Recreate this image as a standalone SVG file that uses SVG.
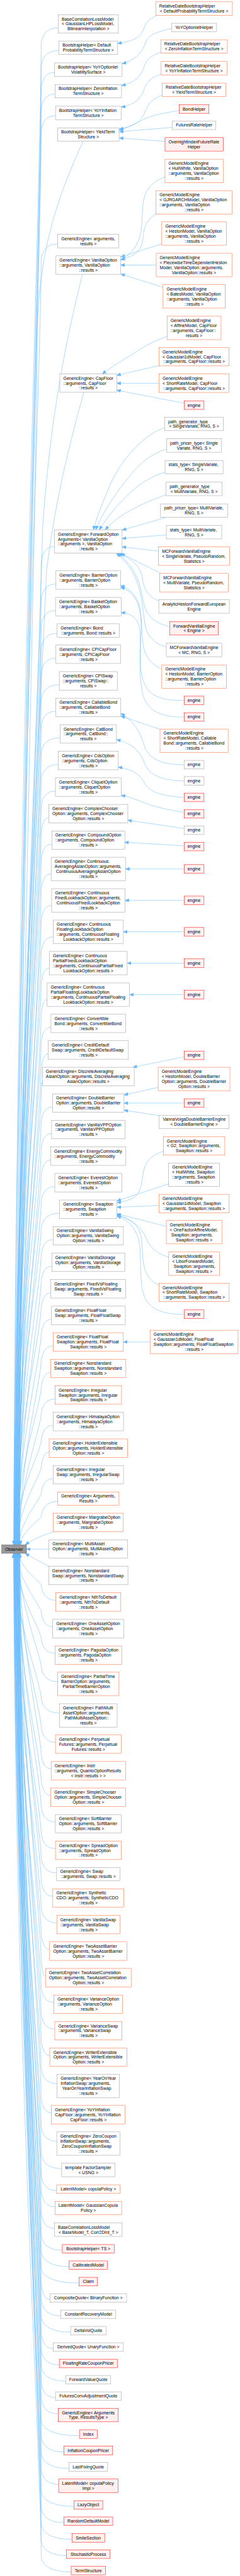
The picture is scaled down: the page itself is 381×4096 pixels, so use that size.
<svg xmlns="http://www.w3.org/2000/svg" width="381" height="4096" viewBox="0 0 381 4096">
<defs>
<style>
.e path{fill:none;stroke:#63B8FF;stroke-width:1;marker-end:url(#a)}
text{font-family:"Liberation Sans",Arial,Helvetica,sans-serif;font-size:13px;fill:#000}
.m{text-anchor:middle}
.g rect{fill:#fff;stroke:#999;stroke-width:1}
.o rect{fill:#fff;stroke:#FF6633;stroke-width:1}
.r rect{fill:#FFF0F0;stroke:#FF0000;stroke-width:1}
.b rect{fill:#999;stroke:#666;stroke-width:1}
</style>
<marker id="a" markerWidth="12" markerHeight="10" refX="12" refY="5" orient="auto" markerUnits="userSpaceOnUse" viewBox="0 0 12 10"><path d="M0,0L12,5L0,10z" fill="#63B8FF" stroke="#63B8FF"/></marker>
</defs>
<rect width="381" height="4096" fill="#fff"/>
<g transform="scale(0.5276)">
<g id="connectors" class="e">
<path d="M473,46C445,58 438,70 432,88C422,115 398,124 354,131"/>
<path d="M516,86C470,96 446,106 438,128C428,160 405,182 368,192"/>
<path d="M484,157C455,168 441,178 434,200C425,232 402,250 366,258"/>
<path d="M485,223C456,234 442,244 435,266C426,298 403,316 365,323"/>
<path d="M488,286C460,298 446,310 438,333C428,362 408,380 359,389"/>
<path d="M539,333C500,340 462,346 438,357C414,369 390,383 359,392"/>
<path d="M518.4,384L359,397"/>
<path d="M496.4,426L359,416"/>
<path d="M496.4,533C452,550 432,575 429,630C426,690 430,745 364,784"/>
<path d="M469.6,645C445,660 433,680 431,712C428,752 410,772 364,782"/>
<path d="M486.8,735L364,774"/>
<path d="M470,798.9L363.1,798.9"/>
<path d="M490.7,866L364,826"/>
<path d="M502.7,1014C470,1025 440,1040 410,1060C380,1080 335,1105 308,1126.8"/>
<path d="M478.5,1102L351.4,1131"/>
<path d="M478.5,1155L351.4,1155"/>
<path d="M554,1215L351.4,1176"/>
<path d="M495.5,1289C430,1310 362,1390 332,1460C308,1515 291,1560 281,1596.8"/>
<path d="M501,1354C460,1365 420,1395 386,1440C342,1495 306,1550 288,1596.8"/>
<path d="M496.7,1423C455,1435 416,1460 381,1495C346,1530 320,1562 299,1596.8"/>
<path d="M500,1491C460,1505 412,1525 372,1550C346,1566 331,1580 317,1596.8"/>
<path d="M497.2,1560L368,1597.5"/>
<path d="M500.6,1612L367.5,1623"/>
<path d="M477,1661L367.5,1648"/>
<path d="M485.3,1728.3L364,1668"/>
<path d="M477.9,1811C450,1800 433,1780 429,1745C424,1705 395,1685 358,1667.3"/>
<path d="M510.7,1888C470,1880 446,1860 436,1830C423,1790 428,1725 354,1667.3"/>
<path d="M500.4,1950C465,1940 446,1920 438,1890C426,1840 436,1735 350,1667.3"/>
<path d="M486.8,2016C460,2005 441,1985 433,1955C421,1905 432,1840 411,1805C399,1785 386,1772 363.1,1765"/>
<path d="M554,2111C490,2112 452,2100 434,2060C413,2010 426,1930 425,1880C424,1830 410,1785 363.1,1770"/>
<path d="M554,2161C480,2162 442,2140 429,2090C415,2030 426,1950 421,1900C417,1868 402,1850 364.5,1846"/>
<path d="M481.6,2198L364,2158"/>
<path d="M554,2305C490,2304 452,2290 437,2255C426,2225 418,2183 363.6,2150"/>
<path d="M554,2354C490,2352 452,2338 437,2305C425,2275 410,2244 350.5,2229"/>
<path d="M554,2403C490,2400 452,2388 436,2362C423,2338 405,2320 356,2312"/>
<path d="M554,2448C500,2440 462,2430 438,2421C416,2412 393,2402 364.7,2397"/>
<path d="M554,2497L384.7,2472"/>
<path d="M554,2549L375.5,2538.5"/>
<path d="M554,2618.8L377.6,2618.8"/>
<path d="M554,2713.7L376,2713.7"/>
<path d="M554,2808.3L371.2,2808.3"/>
<path d="M554,2902.8L382.7,2902.8"/>
<path d="M554,2997.7L389.6,2997.7"/>
<path d="M554,3185L400,3216.5"/>
<path d="M476,3277L373.2,3300"/>
<path d="M554,3324.4L373.2,3324.4"/>
<path d="M479.3,3362L373.2,3346"/>
<path d="M491.4,3470C460,3480 441,3495 433,3525C425,3560 428,3595 401,3610C386,3618 371,3622 352,3625"/>
<path d="M507.5,3568L352,3619"/>
<path d="M478.3,3633L352,3638.5"/>
<path d="M500.4,3696L352,3658"/>
<path d="M507.8,3789C475,3778 453,3762 441,3735C429,3705 410,3680 352,3661"/>
<path d="M478.3,3873C455,3862 439,3845 433,3815C425,3775 433,3720 411,3695C396,3678 376,3668 352,3663"/>
<path d="M554,3961C500,3962 456,3950 438,3915C419,3880 425,3810 421,3760C417,3720 401,3682 352,3665"/>
<path d="M451.6,4044.3L371.2,4044.3"/>
<path d="M175.2,84.4C149.6,83.4 128,96.4 124,129.4C121,672.5 44,2618.5 44,4655"/>
<path d="M177.5,152.7C150.8,151.7 128,164.7 124,197.7C121,732.6 50,2649.2 50,4655"/>
<path d="M164,218.7C144,217.7 128,230.7 124,263.7C121,790.7 56,2678.9 56,4655"/>
<path d="M165.7,283.8C144.9,282.8 128,295.8 124,328.8C121,847.9 47,2708.2 47,4655"/>
<path d="M167,349.3C145.5,348.3 128,361.3 124,394.3C121,905.6 53,2737.7 53,4655"/>
<path d="M250,425.8C180,580 118,740 112,1000C108,1700 59,3100 59,4655"/>
<path d="M173.9,735.6C148.9,734.6 128,747.6 124,780.6C121,1245.5 42,2911.5 42,4655"/>
<path d="M248,826.7C205,1000 150,1250 128,1600C118,2100 50,3300 50,4655"/>
<path d="M252,1182.4C220,1300 170,1480 140,1720C125,2100 45,3400 45,4655"/>
<path d="M164,1647.6C144,1646.6 128,1659.6 124,1692.6C121,2048.1 55,3321.9 55,4655"/>
<path d="M168.3,1760.4C146.2,1759.4 128,1772.4 124,1805.4C121,2147.4 48,3372.7 48,4655"/>
<path d="M167,1840.4C145.5,1839.4 128,1852.4 124,1885.4C121,2217.8 58,3408.7 58,4655"/>
<path d="M172,1909.2C148,1908.2 128,1921.2 124,1954.2C121,2278.3 43,3439.6 43,4655"/>
<path d="M168.3,1983.9C146.2,1982.9 128,1995.9 124,2028.9C121,2344 52,3473.3 52,4655"/>
<path d="M178.5,2064.2C151.3,2063.2 128,2076.2 124,2109.2C121,2414.7 46,3509.4 46,4655"/>
<path d="M167.9,2144.2C146,2143.2 128,2156.2 124,2189.2C121,2485.1 57,3545.4 57,4655"/>
<path d="M181,2224.2C152.5,2223.2 128,2236.2 124,2269.2C121,2555.5 41,3581.4 41,4655"/>
<path d="M175.5,2304.3C149.8,2303.3 128,2316.3 124,2349.3C121,2626 51,3617.4 51,4655"/>
<path d="M166.8,2384.3C145.4,2383.3 128,2396.3 124,2429.3C121,2696.4 54,3653.4 54,4655"/>
<path d="M146.7,2464.3C135.4,2463.3 128,2476.3 124,2509.3C121,2766.8 44,3689.4 44,4655"/>
<path d="M155.9,2544.3C140,2543.3 128,2556.3 124,2589.3C121,2837.2 49,3725.4 49,4655"/>
<path d="M153.9,2634.3C139,2633.3 128,2646.3 124,2679.3C121,2916.4 60,3765.9 60,4655"/>
<path d="M155.4,2729.2C139.7,2728.2 128,2741.2 124,2774.2C121,2999.9 46,3808.6 46,4655"/>
<path d="M160.3,2823.7C142.2,2822.7 128,2835.7 124,2868.7C121,3083.1 53,3851.2 53,4655"/>
<path d="M148.8,2918.2C136.4,2917.2 128,2930.2 124,2963.2C121,3166.2 42,3893.7 42,4655"/>
<path d="M141.9,3013.2C133,3012.2 128,3025.2 124,3058.2C121,3249.8 57,3936.4 57,4655"/>
<path d="M153.4,3096.5C138.7,3095.5 128,3108.5 124,3141.5C121,3323.1 48,3973.9 48,4655"/>
<path d="M145.1,3176.5C134.6,3175.5 128,3188.5 124,3221.5C121,3393.5 55,4009.9 55,4655"/>
<path d="M127.6,3256.5C125.8,3260 125,3275 124,3301.5C121,3463.9 44,4045.9 44,4655"/>
<path d="M158.2,3336.4C141.1,3335.4 128,3348.4 124,3381.4C121,3534.2 51,4081.9 51,4655"/>
<path d="M155.2,3416.5C139.6,3415.5 128,3428.5 124,3461.5C121,3604.7 58,4117.9 58,4655"/>
<path d="M152.7,3496.5C138.4,3495.5 128,3508.5 124,3541.5C121,3675.1 47,4153.9 47,4655"/>
<path d="M164.9,3576.5C144.5,3575.5 128,3588.5 124,3621.5C121,3745.5 54,4189.9 54,4655"/>
<path d="M179.4,3656.5C151.7,3655.5 128,3668.5 124,3701.5C121,3815.9 43,4225.9 43,4655"/>
<path d="M160.3,3736.5C142.2,3735.5 128,3748.5 124,3781.5C121,3886.3 50,4261.9 50,4655"/>
<path d="M155.9,3816.5C140,3815.5 128,3828.5 124,3861.5C121,3956.7 56,4297.9 56,4655"/>
<path d="M152.9,3896.5C138.5,3895.5 128,3908.5 124,3941.5C121,4027.1 45,4333.9 45,4655"/>
<path d="M154.3,3976.5C139.2,3975.5 128,3988.5 124,4021.5C121,4097.5 52,4369.9 52,4655"/>
<path d="M160.3,4056.5C142.2,4055.5 128,4068.5 124,4101.5C121,4167.9 59,4405.9 59,4655"/>
<path d="M152.7,4136.5C138.4,4135.5 128,4148.5 124,4181.5C121,4238.3 48,4441.9 48,4655"/>
<path d="M165.8,4216.5C144.9,4215.5 128,4228.5 124,4261.5C121,4308.7 55,4477.9 55,4655"/>
<path d="M159.8,4296.5C141.9,4295.5 128,4308.5 124,4341.5C121,4379.1 44,4513.9 44,4655"/>
<path d="M147.9,4376.6C136,4375.6 128,4388.6 124,4421.6C121,4449.6 51,4550 51,4655"/>
<path d="M159.8,4456.6C141.9,4455.6 128,4468.6 124,4501.6C121,4520 58,4586 58,4655"/>
<path d="M173.4,4525.4C148.7,4524.4 128,4537.4 124,4570.4C121,4580.6 62,4616.9 62,4655"/>
<path d="M160.3,4616.3C130,4626 100,4640 76,4655"/>
<path d="M147.4,4668.6L79.7,4668.6"/>
<path d="M146.5,4720.4C125,4710 100,4695 76,4682"/>
<path d="M167.9,4822.4C146,4823.4 128,4810.4 124,4777.4C121,4766 58,4724.9 58,4682"/>
<path d="M158.5,4902.4C141.3,4903.4 128,4890.4 124,4857.4C121,4836.4 52,4760.9 52,4682"/>
<path d="M165.4,4982.4C144.7,4983.4 128,4970.4 124,4937.4C121,4906.8 46,4796.9 46,4682"/>
<path d="M173.4,5067.6C148.7,5068.6 128,5055.6 124,5022.6C121,4981.7 56,4835.3 56,4682"/>
<path d="M178.9,5162.6C151.5,5163.6 128,5150.6 124,5117.6C121,5065.3 43,4878 43,4682"/>
<path d="M167,5250.6C145.5,5251.6 128,5238.6 124,5205.6C121,5142.8 50,4917.6 50,4682"/>
<path d="M153.9,5330.6C139,5331.6 128,5318.6 124,5285.6C121,5213.2 59,4953.6 59,4682"/>
<path d="M152.9,5410.6C138.5,5411.6 128,5398.6 124,5365.6C121,5283.6 47,4989.6 47,4682"/>
<path d="M166.5,5490.7C145.3,5491.7 128,5478.7 124,5445.7C121,5354.1 54,5025.7 54,4682"/>
<path d="M167,5570.7C145.5,5571.7 128,5558.7 124,5525.7C121,5424.5 41,5061.7 41,4682"/>
<path d="M170.4,5643.9C147.2,5644.9 128,5631.9 124,5598.9C121,5488.9 49,5094.6 49,4682"/>
<path d="M158.9,5714.5C141.5,5715.5 128,5702.5 124,5669.5C121,5551 57,5126.4 57,4682"/>
<path d="M170.9,5794.5C147.5,5795.5 128,5782.5 124,5749.5C121,5621.4 45,5162.4 45,4682"/>
<path d="M149.5,5874.5C136.8,5875.5 128,5862.5 124,5829.5C121,5691.8 52,5198.4 52,4682"/>
<path d="M136.8,5954.5C130.4,5955.5 128,5942.5 124,5909.5C121,5762.2 60,5234.4 60,4682"/>
<path d="M162.4,6034.5C143.2,6035.5 128,6022.5 124,5989.5C121,5832.6 44,5270.4 44,4682"/>
<path d="M164.9,6114.5C144.5,6115.5 128,6102.5 124,6069.5C121,5903 51,5306.4 51,4682"/>
<path d="M149.9,6194.1C137,6195.1 128,6182.1 124,6149.1C121,5973 55,5342.2 55,4682"/>
<path d="M171.8,6279.3C147.9,6280.3 128,6267.3 124,6234.3C121,6048 48,5380.5 48,4682"/>
<path d="M154.8,6367.4C139.4,6368.4 128,6355.4 124,6322.4C121,6125.6 58,5420.2 58,4682"/>
<path d="M170.9,6453C147.5,6454 128,6441 124,6408C121,6200.9 42,5458.7 42,4682"/>
<path d="M185.6,6535.5C154.8,6536.5 128,6523.5 124,6490.5C121,6273.5 53,5495.8 53,4682"/>
<path d="M170.4,6601.6C147.2,6602.6 128,6589.6 124,6556.6C121,6331.6 47,5525.6 47,4682"/>
<path d="M165.4,6650.3C144.7,6651.3 128,6638.3 124,6605.3C121,6374.5 56,5547.5 56,4682"/>
<path d="M164,6715.4C144,6716.4 128,6703.4 124,6670.4C121,6431.8 44,5576.8 44,4682"/>
<path d="M187.5,6781.5C155.8,6782.5 128,6769.5 124,6736.5C121,6490 50,5606.5 50,4682"/>
<path d="M208.2,6830.8C166.1,6831.8 128,6818.8 124,6785.8C121,6533.3 59,5628.7 59,4682"/>
<path d="M238.1,6880.2C181,6881.2 128,6868.2 124,6835.2C121,6576.8 46,5650.9 46,4682"/>
<path d="M150.4,6929.5C137.2,6930.5 128,6917.5 124,6884.5C121,6620.2 53,5673.1 53,4682"/>
<path d="M183.1,6978.9C153.6,6979.9 128,6966.9 124,6933.9C121,6663.7 41,5695.4 41,4682"/>
<path d="M212.5,7028.2C168.3,7029.2 128,7016.2 124,6983.2C121,6707.1 49,5717.5 49,4682"/>
<path d="M160.3,7077.5C142.2,7078.5 128,7065.5 124,7032.5C121,6750.4 57,5739.7 57,4682"/>
<path d="M178.5,7126.9C151.3,7127.9 128,7114.9 124,7081.9C121,6793.9 44,5762 44,4682"/>
<path d="M198.3,7176C161.2,7177 128,7164 124,7131C121,6837.1 52,5784 52,4682"/>
<path d="M167,7225.4C145.5,7226.4 128,7213.4 124,7180.4C121,6880.6 60,5806.3 60,4682"/>
<path d="M175.5,7274.2C149.8,7275.2 128,7262.2 124,7229.2C121,6923.5 47,5828.2 47,4682"/>
<path d="M239,7340.3C181.5,7341.3 128,7328.3 124,7295.3C121,6981.7 54,5858 54,4682"/>
<path d="M192.5,7389.4C158.3,7390.4 128,7377.4 124,7344.4C121,7024.9 43,5880.1 43,4682"/>
<path d="M207.5,7438.8C165.8,7439.8 128,7426.8 124,7393.8C121,7068.4 50,5902.3 50,4682"/>
<path d="M176.4,7487.2C150.2,7488.2 128,7475.2 124,7442.2C121,7111 58,5924.1 58,4682"/>
<path d="M222.2,7553.3C173.1,7554.3 128,7541.3 124,7508.3C121,7169.1 45,5953.8 45,4682"/>
<path d="M192.1,7602.3C158,7603.3 128,7590.3 124,7557.3C121,7212.3 53,5975.9 53,4682"/>
<path d="M216.5,7652.5C170.2,7653.5 128,7640.5 124,7607.5C121,7256.4 48,5998.5 48,4682"/>
<path d="M200.1,7701.5C162,7702.5 128,7689.5 124,7656.5C121,7299.6 55,6020.5 55,4682"/>
<path d="M214.2,7750.9C169.1,7751.9 128,7738.9 124,7705.9C121,7343 42,6042.8 42,4682"/>
</g>
<g id="Observer" class="b" transform="translate(42.4,4655.7)"><rect x="-37.3" y="0" width="74.6" height="25.7"/><text class="m" x="0" y="17.5">Observer</text></g>
<g id="L1" class="g" transform="translate(265.7,44.4)"><rect x="-90.5" y="0" width="181" height="55.6"/><text x="-80" y="17.3">BaseCorrelationLossModel</text><text x="-80" y="32.3">&lt; GaussianLHPLossModel,</text><text class="m" x="0" y="47.3">BilinearInterpolation &gt;</text></g>
<g id="L2" class="g" transform="translate(265.7,123.5)"><rect x="-88.2" y="0" width="176.4" height="40.6"/><text x="-77.7" y="17.3">BootstrapHelper&lt; Default</text><text class="m" x="0" y="32.3">ProbabilityTermStructure &gt;</text></g>
<g id="L3" class="g" transform="translate(265.7,189.5)"><rect x="-101.75" y="0" width="203.5" height="40.6"/><text x="-91.2" y="17.3">BootstrapHelper&lt; YoYOptionlet</text><text class="m" x="0" y="32.3">VolatilitySurface &gt;</text></g>
<g id="L4" class="g" transform="translate(265.7,254.6)"><rect x="-100" y="0" width="200" height="40.6"/><text x="-89.5" y="17.3">BootstrapHelper&lt; ZeroInflation</text><text class="m" x="0" y="32.3">TermStructure &gt;</text></g>
<g id="L5" class="g" transform="translate(265.7,320.1)"><rect x="-98.75" y="0" width="197.5" height="40.6"/><text x="-88.2" y="17.3">BootstrapHelper&lt; YoYInflation</text><text class="m" x="0" y="32.3">TermStructure &gt;</text></g>
<g id="L6" class="g" transform="translate(265.7,385.2)"><rect x="-92.5" y="0" width="185" height="40.6"/><text x="-82" y="17.3">BootstrapHelper&lt; YieldTerm</text><text class="m" x="0" y="32.3">Structure &gt;</text></g>
<g id="L7" class="g" transform="translate(265.7,706.4)"><rect x="-91.85" y="0" width="183.7" height="40.6"/><text x="-81.3" y="17.3">GenericEngine&lt; arguments,</text><text class="m" x="0" y="32.3">results &gt;</text></g>
<g id="L8" class="g" transform="translate(265.7,771.1)"><rect x="-97.4" y="0" width="194.8" height="55.6"/><text x="-86.9" y="17.3">GenericEngine&lt; VanillaOption</text><text x="-86.9" y="32.3">::arguments, VanillaOption</text><text class="m" x="0" y="47.3">::results &gt;</text></g>
<g id="L9" class="g" transform="translate(265.7,1126.8)"><rect x="-85.65" y="0" width="171.3" height="55.6"/><text x="-75.1" y="17.3">GenericEngine&lt; CapFloor</text><text x="-75.1" y="32.3">::arguments, CapFloor</text><text class="m" x="0" y="47.3">::results &gt;</text></g>
<g id="L10" class="g" transform="translate(265.7,1596.8)"><rect x="-101.75" y="0" width="203.5" height="70.5"/><text x="-91.2" y="17.3">GenericEngine&lt; ForwardOption</text><text x="-91.2" y="32.3">Arguments&lt; VanillaOption</text><text x="-91.2" y="47.3">::arguments &gt;, VanillaOption</text><text class="m" x="0" y="62.3">::results &gt;</text></g>
<g id="L11" class="g" transform="translate(265.7,1720.4)"><rect x="-97.4" y="0" width="194.8" height="55.6"/><text x="-86.9" y="17.3">GenericEngine&lt; BarrierOption</text><text x="-86.9" y="32.3">::arguments, BarrierOption</text><text class="m" x="0" y="47.3">::results &gt;</text></g>
<g id="L12" class="g" transform="translate(265.7,1800.4)"><rect x="-98.75" y="0" width="197.5" height="55.6"/><text x="-88.2" y="17.3">GenericEngine&lt; BasketOption</text><text x="-88.2" y="32.3">::arguments, BasketOption</text><text class="m" x="0" y="47.3">::results &gt;</text></g>
<g id="L13" class="g" transform="translate(265.7,1880)"><rect x="-93.7" y="0" width="187.4" height="40.6"/><text x="-83.2" y="17.3">GenericEngine&lt; Bond</text><text class="m" x="0" y="32.3">::arguments, Bond::results &gt;</text></g>
<g id="L14" class="g" transform="translate(265.7,1943.9)"><rect x="-97.4" y="0" width="194.8" height="55.6"/><text x="-86.9" y="17.3">GenericEngine&lt; CPICapFloor</text><text x="-86.9" y="32.3">::arguments, CPICapFloor</text><text class="m" x="0" y="47.3">::results &gt;</text></g>
<g id="L15" class="g" transform="translate(265.7,2024.2)"><rect x="-87.25" y="0" width="174.5" height="55.6"/><text x="-76.7" y="17.3">GenericEngine&lt; CPISwap</text><text x="-76.7" y="32.3">::arguments, CPISwap::</text><text class="m" x="0" y="47.3">results &gt;</text></g>
<g id="L16" class="g" transform="translate(265.7,2104.2)"><rect x="-97.85" y="0" width="195.7" height="55.6"/><text x="-87.3" y="17.3">GenericEngine&lt; CallableBond</text><text x="-87.3" y="32.3">::arguments, CallableBond</text><text class="m" x="0" y="47.3">::results &gt;</text></g>
<g id="L17" class="g" transform="translate(265.7,2184.2)"><rect x="-84.75" y="0" width="169.5" height="55.6"/><text x="-74.2" y="17.3">GenericEngine&lt; CatBond</text><text x="-74.2" y="32.3">::arguments, CatBond::</text><text class="m" x="0" y="47.3">results &gt;</text></g>
<g id="L18" class="g" transform="translate(265.7,2264.3)"><rect x="-90.25" y="0" width="180.5" height="55.6"/><text x="-79.7" y="17.3">GenericEngine&lt; CdsOption</text><text x="-79.7" y="32.3">::arguments, CdsOption</text><text class="m" x="0" y="47.3">::results &gt;</text></g>
<g id="L19" class="g" transform="translate(265.7,2344.3)"><rect x="-98.95" y="0" width="197.9" height="55.6"/><text x="-88.4" y="17.3">GenericEngine&lt; CliquetOption</text><text x="-88.4" y="32.3">::arguments, CliquetOption</text><text class="m" x="0" y="47.3">::results &gt;</text></g>
<g id="L20" class="g" transform="translate(265.7,2424.3)"><rect x="-119" y="0" width="238" height="55.6"/><text x="-108.5" y="17.3">GenericEngine&lt; ComplexChooser</text><text x="-108.5" y="32.3">Option::arguments, ComplexChooser</text><text class="m" x="0" y="47.3">Option::results &gt;</text></g>
<g id="L21" class="g" transform="translate(265.7,2504.3)"><rect x="-109.8" y="0" width="219.6" height="55.6"/><text x="-99.3" y="17.3">GenericEngine&lt; CompoundOption</text><text x="-99.3" y="32.3">::arguments, CompoundOption</text><text class="m" x="0" y="47.3">::results &gt;</text></g>
<g id="L22" class="g" transform="translate(265.7,2583.5)"><rect x="-111.85" y="0" width="223.7" height="70.5"/><text x="-101.3" y="17.3">GenericEngine&lt; Continuous</text><text x="-101.3" y="32.3">AveragingAsianOption::arguments,</text><text class="m" x="0" y="47.3">ContinuousAveragingAsianOption</text><text class="m" x="0" y="62.3">::results &gt;</text></g>
<g id="L23" class="g" transform="translate(265.7,2678.4)"><rect x="-110.3" y="0" width="220.6" height="70.5"/><text x="-99.8" y="17.3">GenericEngine&lt; Continuous</text><text x="-99.8" y="32.3">FixedLookbackOption::arguments,</text><text class="m" x="0" y="47.3">ContinuousFixedLookbackOption</text><text class="m" x="0" y="62.3">::results &gt;</text></g>
<g id="L24" class="g" transform="translate(265.7,2772.9)"><rect x="-105.45" y="0" width="210.9" height="70.5"/><text x="-94.9" y="17.3">GenericEngine&lt; Continuous</text><text x="-94.9" y="32.3">FloatingLookbackOption</text><text x="-94.9" y="47.3">::arguments, ContinuousFloating</text><text class="m" x="0" y="62.3">LookbackOption::results &gt;</text></g>
<g id="L25" class="g" transform="translate(265.7,2867.4)"><rect x="-116.95" y="0" width="233.9" height="70.5"/><text x="-106.4" y="17.3">GenericEngine&lt; Continuous</text><text x="-106.4" y="32.3">PartialFixedLookbackOption</text><text x="-106.4" y="47.3">::arguments, ContinuousPartialFixed</text><text class="m" x="0" y="62.3">LookbackOption::results &gt;</text></g>
<g id="L26" class="g" transform="translate(265.7,2962.4)"><rect x="-123.85" y="0" width="247.7" height="70.5"/><text x="-113.3" y="17.3">GenericEngine&lt; Continuous</text><text x="-113.3" y="32.3">PartialFloatingLookbackOption</text><text x="-113.3" y="47.3">::arguments, ContinuousPartialFloating</text><text class="m" x="0" y="62.3">LookbackOption::results &gt;</text></g>
<g id="L27" class="g" transform="translate(265.7,3056.5)"><rect x="-112.35" y="0" width="224.7" height="55.6"/><text x="-101.8" y="17.3">GenericEngine&lt; Convertible</text><text x="-101.8" y="32.3">Bond::arguments, ConvertibleBond</text><text class="m" x="0" y="47.3">::results &gt;</text></g>
<g id="L28" class="g" transform="translate(265.7,3136.5)"><rect x="-120.65" y="0" width="241.3" height="55.6"/><text x="-110.1" y="17.3">GenericEngine&lt; CreditDefault</text><text x="-110.1" y="32.3">Swap::arguments, CreditDefaultSwap</text><text class="m" x="0" y="47.3">::results &gt;</text></g>
<g id="L29" class="g" transform="translate(265.7,3216.5)"><rect x="-138.15" y="0" width="276.3" height="55.6"/><text x="-127.6" y="17.3">GenericEngine&lt; DiscreteAveraging</text><text x="-127.6" y="32.3">AsianOption::arguments, DiscreteAveraging</text><text class="m" x="0" y="47.3">AsianOption::results &gt;</text></g>
<g id="L30" class="g" transform="translate(265.7,3296.4)"><rect x="-107.5" y="0" width="215" height="55.6"/><text x="-97" y="17.3">GenericEngine&lt; DoubleBarrier</text><text x="-97" y="32.3">Option::arguments, DoubleBarrier</text><text class="m" x="0" y="47.3">Option::results &gt;</text></g>
<g id="L31" class="g" transform="translate(265.7,3376.5)"><rect x="-110.5" y="0" width="221" height="55.6"/><text x="-100" y="17.3">GenericEngine&lt; VanillaVPPOption</text><text x="-100" y="32.3">::arguments, VanillaVPPOption</text><text class="m" x="0" y="47.3">::results &gt;</text></g>
<g id="L32" class="g" transform="translate(265.7,3456.5)"><rect x="-113.05" y="0" width="226.1" height="55.6"/><text x="-102.5" y="17.3">GenericEngine&lt; EnergyCommodity</text><text x="-102.5" y="32.3">::arguments, EnergyCommodity</text><text class="m" x="0" y="47.3">::results &gt;</text></g>
<g id="L33" class="g" transform="translate(265.7,3536.5)"><rect x="-100.85" y="0" width="201.7" height="55.6"/><text x="-90.3" y="17.3">GenericEngine&lt; EverestOption</text><text x="-90.3" y="32.3">::arguments, EverestOption</text><text class="m" x="0" y="47.3">::results &gt;</text></g>
<g id="L34" class="g" transform="translate(265.7,3616.5)"><rect x="-86.3" y="0" width="172.6" height="55.6"/><text x="-75.8" y="17.3">GenericEngine&lt; Swaption</text><text x="-75.8" y="32.3">::arguments, Swaption</text><text class="m" x="0" y="47.3">::results &gt;</text></g>
<g id="L35" class="g" transform="translate(265.7,3696.5)"><rect x="-105.45" y="0" width="210.9" height="55.6"/><text x="-94.9" y="17.3">GenericEngine&lt; VanillaSwing</text><text x="-94.9" y="32.3">Option::arguments, VanillaSwing</text><text class="m" x="0" y="47.3">Option::results &gt;</text></g>
<g id="L36" class="g" transform="translate(265.7,3776.5)"><rect x="-109.8" y="0" width="219.6" height="55.6"/><text x="-99.3" y="17.3">GenericEngine&lt; VanillaStorage</text><text x="-99.3" y="32.3">Option::arguments, VanillaStorage</text><text class="m" x="0" y="47.3">Option::results &gt;</text></g>
<g id="L37" class="g" transform="translate(265.7,3856.5)"><rect x="-112.8" y="0" width="225.6" height="55.6"/><text x="-102.3" y="17.3">GenericEngine&lt; FixedVsFloating</text><text x="-102.3" y="32.3">Swap::arguments, FixedVsFloating</text><text class="m" x="0" y="47.3">Swap::results &gt;</text></g>
<g id="L38" class="g" transform="translate(265.7,3936.5)"><rect x="-111.45" y="0" width="222.9" height="55.6"/><text x="-100.9" y="17.3">GenericEngine&lt; FloatFloat</text><text x="-100.9" y="32.3">Swap::arguments, FloatFloatSwap</text><text class="m" x="0" y="47.3">::results &gt;</text></g>
<g id="L39" class="o" transform="translate(265.7,4016.5)"><rect x="-105.45" y="0" width="210.9" height="55.6"/><text x="-94.9" y="17.3">GenericEngine&lt; FloatFloat</text><text x="-94.9" y="32.3">Swaption::arguments, FloatFloat</text><text class="m" x="0" y="47.3">Swaption::results &gt;</text></g>
<g id="L40" class="o" transform="translate(265.7,4096.5)"><rect x="-113.05" y="0" width="226.1" height="55.6"/><text x="-102.5" y="17.3">GenericEngine&lt; Nonstandard</text><text x="-102.5" y="32.3">Swaption::arguments, Nonstandard</text><text class="m" x="0" y="47.3">Swaption::results &gt;</text></g>
<g id="L41" class="o" transform="translate(265.7,4176.5)"><rect x="-99.95" y="0" width="199.9" height="55.6"/><text x="-89.4" y="17.3">GenericEngine&lt; Irregular</text><text x="-89.4" y="32.3">Swaption::arguments, Irregular</text><text class="m" x="0" y="47.3">Swaption::results &gt;</text></g>
<g id="L42" class="g" transform="translate(265.7,4256.5)"><rect x="-105.9" y="0" width="211.8" height="55.6"/><text x="-95.4" y="17.3">GenericEngine&lt; HimalayaOption</text><text x="-95.4" y="32.3">::arguments, HimalayaOption</text><text class="m" x="0" y="47.3">::results &gt;</text></g>
<g id="L43" class="o" transform="translate(265.7,4336.6)"><rect x="-117.85" y="0" width="235.7" height="55.6"/><text x="-107.3" y="17.3">GenericEngine&lt; HolderExtensible</text><text x="-107.3" y="32.3">Option::arguments, HolderExtensible</text><text class="m" x="0" y="47.3">Option::results &gt;</text></g>
<g id="L44" class="g" transform="translate(265.7,4416.6)"><rect x="-105.9" y="0" width="211.8" height="55.6"/><text x="-95.4" y="17.3">GenericEngine&lt; Irregular</text><text x="-95.4" y="32.3">Swap::arguments, IrregularSwap</text><text class="m" x="0" y="47.3">::results &gt;</text></g>
<g id="L45" class="o" transform="translate(265.7,4496.2)"><rect x="-92.3" y="0" width="184.6" height="40.6"/><text x="-81.8" y="17.3">GenericEngine&lt; Arguments,</text><text class="m" x="0" y="32.3">Results &gt;</text></g>
<g id="L46" class="o" transform="translate(265.7,4560.4)"><rect x="-105.45" y="0" width="210.9" height="55.6"/><text x="-94.9" y="17.3">GenericEngine&lt; MargrabeOption</text><text x="-94.9" y="32.3">::arguments, MargrabeOption</text><text class="m" x="0" y="47.3">::results &gt;</text></g>
<g id="L47" class="g" transform="translate(265.7,4640.4)"><rect x="-118.35" y="0" width="236.7" height="55.6"/><text x="-107.8" y="17.3">GenericEngine&lt; MultiAsset</text><text x="-107.8" y="32.3">Option::arguments, MultiAssetOption</text><text class="m" x="0" y="47.3">::results &gt;</text></g>
<g id="L48" class="g" transform="translate(265.7,4720.4)"><rect x="-119.25" y="0" width="238.5" height="55.6"/><text x="-108.7" y="17.3">GenericEngine&lt; Nonstandard</text><text x="-108.7" y="32.3">Swap::arguments, NonstandardSwap</text><text class="m" x="0" y="47.3">::results &gt;</text></g>
<g id="L49" class="o" transform="translate(265.7,4800.4)"><rect x="-97.85" y="0" width="195.7" height="55.6"/><text x="-87.3" y="17.3">GenericEngine&lt; NthToDefault</text><text x="-87.3" y="32.3">::arguments, NthToDefault</text><text class="m" x="0" y="47.3">::results &gt;</text></g>
<g id="L50" class="g" transform="translate(265.7,4880.4)"><rect x="-107.25" y="0" width="214.5" height="55.6"/><text x="-96.7" y="17.3">GenericEngine&lt; OneAssetOption</text><text x="-96.7" y="32.3">::arguments, OneAssetOption</text><text class="m" x="0" y="47.3">::results &gt;</text></g>
<g id="L51" class="o" transform="translate(265.7,4960.4)"><rect x="-100.35" y="0" width="200.7" height="55.6"/><text x="-89.8" y="17.3">GenericEngine&lt; PagodaOption</text><text x="-89.8" y="32.3">::arguments, PagodaOption</text><text class="m" x="0" y="47.3">::results &gt;</text></g>
<g id="L52" class="o" transform="translate(265.7,5039.6)"><rect x="-92.3" y="0" width="184.6" height="70.5"/><text x="-81.8" y="17.3">GenericEngine&lt; PartialTime</text><text x="-81.8" y="32.3">BarrierOption::arguments,</text><text class="m" x="-6" y="47.3">PartialTimeBarrierOption</text><text class="m" x="0" y="62.3">::results &gt;</text></g>
<g id="L53" class="g" transform="translate(265.7,5134.6)"><rect x="-86.8" y="0" width="173.6" height="70.5"/><text x="-76.3" y="17.3">GenericEngine&lt; PathMulti</text><text x="-76.3" y="32.3">AssetOption::arguments,</text><text class="m" x="-5" y="47.3">PathMultiAssetOption::</text><text class="m" x="0" y="62.3">results &gt;</text></g>
<g id="L54" class="o" transform="translate(265.7,5228.6)"><rect x="-98.75" y="0" width="197.5" height="55.6"/><text x="-88.2" y="17.3">GenericEngine&lt; Perpetual</text><text x="-88.2" y="32.3">Futures::arguments, Perpetual</text><text class="m" x="0" y="47.3">Futures::results &gt;</text></g>
<g id="L55" class="o" transform="translate(265.7,5308.6)"><rect x="-111.85" y="0" width="223.7" height="55.6"/><text x="-101.3" y="17.3">GenericEngine&lt; Instr</text><text x="-101.3" y="32.3">::arguments, QuantoOptionResults</text><text class="m" x="0" y="47.3">&lt; Instr::results &gt; &gt;</text></g>
<g id="L56" class="o" transform="translate(265.7,5388.6)"><rect x="-112.8" y="0" width="225.6" height="55.6"/><text x="-102.3" y="17.3">GenericEngine&lt; SimpleChooser</text><text x="-102.3" y="32.3">Option::arguments, SimpleChooser</text><text class="m" x="0" y="47.3">Option::results &gt;</text></g>
<g id="L57" class="g" transform="translate(265.7,5468.7)"><rect x="-99.2" y="0" width="198.4" height="55.6"/><text x="-88.7" y="17.3">GenericEngine&lt; SoftBarrier</text><text x="-88.7" y="32.3">Option::arguments, SoftBarrier</text><text class="m" x="0" y="47.3">Option::results &gt;</text></g>
<g id="L58" class="o" transform="translate(265.7,5548.7)"><rect x="-98.75" y="0" width="197.5" height="55.6"/><text x="-88.2" y="17.3">GenericEngine&lt; SpreadOption</text><text x="-88.2" y="32.3">::arguments, SpreadOption</text><text class="m" x="0" y="47.3">::results &gt;</text></g>
<g id="L59" class="g" transform="translate(265.7,5627.9)"><rect x="-95.35" y="0" width="190.7" height="40.6"/><text x="-84.8" y="17.3">GenericEngine&lt; Swap</text><text class="m" x="0" y="32.3">::arguments, Swap::results &gt;</text></g>
<g id="L60" class="o" transform="translate(265.7,5692.5)"><rect x="-106.85" y="0" width="213.7" height="55.6"/><text x="-96.3" y="17.3">GenericEngine&lt; Synthetic</text><text x="-96.3" y="32.3">CDO::arguments, SyntheticCDO</text><text class="m" x="0" y="47.3">::results &gt;</text></g>
<g id="L61" class="o" transform="translate(265.7,5772.5)"><rect x="-94.85" y="0" width="189.7" height="55.6"/><text x="-84.3" y="17.3">GenericEngine&lt; VanillaSwap</text><text x="-84.3" y="32.3">::arguments, VanillaSwap</text><text class="m" x="0" y="47.3">::results &gt;</text></g>
<g id="L62" class="o" transform="translate(265.7,5852.5)"><rect x="-116.25" y="0" width="232.5" height="55.6"/><text x="-105.7" y="17.3">GenericEngine&lt; TwoAssetBarrier</text><text x="-105.7" y="32.3">Option::arguments, TwoAssetBarrier</text><text class="m" x="0" y="47.3">Option::results &gt;</text></g>
<g id="L63" class="o" transform="translate(265.7,5932.5)"><rect x="-128.9" y="0" width="257.8" height="55.6"/><text x="-118.4" y="17.3">GenericEngine&lt; TwoAssetCorrelation</text><text x="-118.4" y="32.3">Option::arguments, TwoAssetCorrelation</text><text class="m" x="0" y="47.3">Option::results &gt;</text></g>
<g id="L64" class="o" transform="translate(265.7,6012.5)"><rect x="-103.35" y="0" width="206.7" height="55.6"/><text x="-92.8" y="17.3">GenericEngine&lt; VarianceOption</text><text x="-92.8" y="32.3">::arguments, VarianceOption</text><text class="m" x="0" y="47.3">::results &gt;</text></g>
<g id="L65" class="o" transform="translate(265.7,6092.5)"><rect x="-100.85" y="0" width="201.7" height="55.6"/><text x="-90.3" y="17.3">GenericEngine&lt; VarianceSwap</text><text x="-90.3" y="32.3">::arguments, VarianceSwap</text><text class="m" x="0" y="47.3">::results &gt;</text></g>
<g id="L66" class="o" transform="translate(265.7,6172.1)"><rect x="-115.8" y="0" width="231.6" height="55.6"/><text x="-105.3" y="17.3">GenericEngine&lt; WriterExtensible</text><text x="-105.3" y="32.3">Option::arguments, WriterExtensible</text><text class="m" x="0" y="47.3">Option::results &gt;</text></g>
<g id="L67" class="g" transform="translate(265.7,6251.3)"><rect x="-93.95" y="0" width="187.9" height="70.5"/><text x="-83.4" y="17.3">GenericEngine&lt; YearOnYear</text><text x="-83.4" y="32.3">InflationSwap::arguments,</text><text class="m" x="-5" y="47.3">YearOnYearInflationSwap</text><text class="m" x="0" y="62.3">::results &gt;</text></g>
<g id="L68" class="o" transform="translate(265.7,6345.4)"><rect x="-110.95" y="0" width="221.9" height="55.6"/><text x="-100.4" y="17.3">GenericEngine&lt; YoYInflation</text><text x="-100.4" y="32.3">CapFloor::arguments, YoYInflation</text><text class="m" x="0" y="47.3">CapFloor::results &gt;</text></g>
<g id="L69" class="g" transform="translate(265.7,6425)"><rect x="-94.85" y="0" width="189.7" height="70.5"/><text x="-84.3" y="17.3">GenericEngine&lt; ZeroCoupon</text><text x="-84.3" y="32.3">InflationSwap::arguments,</text><text class="m" x="-5" y="47.3">ZeroCouponInflationSwap</text><text class="m" x="0" y="62.3">::results &gt;</text></g>
<g id="L70" class="g" transform="translate(265.7,6519.5)"><rect x="-80.15" y="0" width="160.3" height="40.6"/><text x="-69.6" y="17.3">template FactorSampler</text><text class="m" x="0" y="32.3">&lt; USNG &gt;</text></g>
<g id="L71" class="o" transform="translate(265.7,6584.6)"><rect x="-95.35" y="0" width="190.7" height="26"/><text class="m" x="0" y="17.5">LatentModel&lt; copulaPolicy &gt;</text></g>
<g id="L72" class="o" transform="translate(265.7,6634.3)"><rect x="-100.35" y="0" width="200.7" height="40.6"/><text x="-89.8" y="17.3">LatentModel&lt; GaussianCopula</text><text class="m" x="0" y="32.3">Policy &gt;</text></g>
<g id="L73" class="g" transform="translate(265.7,6699.4)"><rect x="-101.75" y="0" width="203.5" height="40.6"/><text x="-91.2" y="17.3">BaseCorrelationLossModel</text><text class="m" x="0" y="32.3">&lt; BaseModel_T, Corr2DInt_T &gt;</text></g>
<g id="L74" class="r" transform="translate(265.7,6764.5)"><rect x="-78.25" y="0" width="156.5" height="26"/><text class="m" x="0" y="17.5">BootstrapHelper&lt; TS &gt;</text></g>
<g id="L75" class="r" transform="translate(265.7,6813.8)"><rect x="-57.55" y="0" width="115.1" height="26"/><text class="m" x="0" y="17.5">CalibratedModel</text></g>
<g id="L76" class="r" transform="translate(265.7,6863.2)"><rect x="-27.65" y="0" width="55.3" height="26"/><text class="m" x="0" y="17.5">Claim</text></g>
<g id="L77" class="g" transform="translate(265.7,6912.5)"><rect x="-115.3" y="0" width="230.6" height="26"/><text class="m" x="0" y="17.5">CompositeQuote&lt; BinaryFunction &gt;</text></g>
<g id="L78" class="g" transform="translate(265.7,6961.9)"><rect x="-82.65" y="0" width="165.3" height="26"/><text class="m" x="0" y="17.5">ConstantRecoveryModel</text></g>
<g id="L79" class="g" transform="translate(265.7,7011.2)"><rect x="-53.2" y="0" width="106.4" height="26"/><text class="m" x="0" y="17.5">DeltaVolQuote</text></g>
<g id="L80" class="g" transform="translate(265.7,7060.5)"><rect x="-105.45" y="0" width="210.9" height="26"/><text class="m" x="0" y="17.5">DerivedQuote&lt; UnaryFunction &gt;</text></g>
<g id="L81" class="r" transform="translate(265.7,7109.9)"><rect x="-87.25" y="0" width="174.5" height="26"/><text class="m" x="0" y="17.5">FloatingRateCouponPricer</text></g>
<g id="L82" class="g" transform="translate(265.7,7159)"><rect x="-67.45" y="0" width="134.9" height="26"/><text class="m" x="0" y="17.5">ForwardValueQuote</text></g>
<g id="L83" class="g" transform="translate(265.7,7208.4)"><rect x="-98.75" y="0" width="197.5" height="26"/><text class="m" x="0" y="17.5">FuturesConvAdjustmentQuote</text></g>
<g id="L84" class="r" transform="translate(265.7,7258.2)"><rect x="-90.25" y="0" width="180.5" height="40.6"/><text x="-79.7" y="17.3">GenericEngine&lt; Arguments</text><text class="m" x="0" y="32.3">Type, ResultsType &gt;</text></g>
<g id="L85" class="r" transform="translate(265.7,7323.3)"><rect x="-26.7" y="0" width="53.4" height="26"/><text class="m" x="0" y="17.5">Index</text></g>
<g id="L86" class="r" transform="translate(265.7,7372.4)"><rect x="-73.25" y="0" width="146.5" height="26"/><text class="m" x="0" y="17.5">InflationCouponPricer</text></g>
<g id="L87" class="g" transform="translate(265.7,7421.8)"><rect x="-58.25" y="0" width="116.5" height="26"/><text class="m" x="0" y="17.5">LastFixingQuote</text></g>
<g id="L88" class="r" transform="translate(265.7,7471.2)"><rect x="-89.35" y="0" width="178.7" height="40.6"/><text x="-78.8" y="17.3">LatentModel&lt; copulaPolicy</text><text class="m" x="0" y="32.3">Impl &gt;</text></g>
<g id="L89" class="r" transform="translate(265.7,7536.3)"><rect x="-43.5" y="0" width="87" height="26"/><text class="m" x="0" y="17.5">LazyObject</text></g>
<g id="L90" class="r" transform="translate(265.7,7585.3)"><rect x="-73.65" y="0" width="147.3" height="26"/><text class="m" x="0" y="17.5">RandomDefaultModel</text></g>
<g id="L91" class="r" transform="translate(265.7,7635.5)"><rect x="-49.25" y="0" width="98.5" height="26"/><text class="m" x="0" y="17.5">SmileSection</text></g>
<g id="L92" class="r" transform="translate(265.7,7684.5)"><rect x="-65.6" y="0" width="131.2" height="26"/><text class="m" x="0" y="17.5">StochasticProcess</text></g>
<g id="L93" class="r" transform="translate(265.7,7733.9)"><rect x="-51.55" y="0" width="103.1" height="26"/><text class="m" x="0" y="17.5">TermStructure</text></g>
<g id="R1" class="o" transform="translate(583.9,5.4)"><rect x="-115.35" y="0" width="230.7" height="40.6"/><text x="-104.8" y="17.3">RelativeDateBootstrapHelper</text><text class="m" x="0" y="32.3">&lt; DefaultProbabilityTermStructure &gt;</text></g>
<g id="R2" class="g" transform="translate(583.9,70.1)"><rect x="-67.9" y="0" width="135.8" height="26"/><text class="m" x="0" y="17.5">YoYOptionletHelper</text></g>
<g id="R3" class="o" transform="translate(583.9,119.8)"><rect x="-100.15" y="0" width="200.3" height="40.6"/><text x="-89.6" y="17.3">RelativeDateBootstrapHelper</text><text class="m" x="0" y="32.3">&lt; ZeroInflationTermStructure &gt;</text></g>
<g id="R4" class="o" transform="translate(583.9,185.3)"><rect x="-99" y="0" width="198" height="40.6"/><text x="-88.5" y="17.3">RelativeDateBootstrapHelper</text><text class="m" x="0" y="32.3">&lt; YoYInflationTermStructure &gt;</text></g>
<g id="R5" class="o" transform="translate(583.9,250.4)"><rect x="-96" y="0" width="192" height="40.6"/><text x="-85.5" y="17.3">RelativeDateBootstrapHelper</text><text class="m" x="0" y="32.3">&lt; YieldTermStructure &gt;</text></g>
<g id="R6" class="r" transform="translate(583.9,315.5)"><rect x="-44.9" y="0" width="89.8" height="26"/><text class="m" x="0" y="17.5">BondHelper</text></g>
<g id="R7" class="g" transform="translate(583.9,364.4)"><rect x="-65.6" y="0" width="131.2" height="26"/><text class="m" x="0" y="17.5">FuturesRateHelper</text></g>
<g id="R8" class="r" transform="translate(583.9,414.6)"><rect x="-87.5" y="0" width="175" height="40.6"/><text x="-77" y="17.3">OvernightIndexFutureRate</text><text class="m" x="0" y="32.3">Helper</text></g>
<g id="R9" class="o" transform="translate(583.9,479.7)"><rect x="-87.5" y="0" width="175" height="70.5"/><text x="-77" y="17.3">GenericModelEngine</text><text x="-77" y="32.3">&lt; HullWhite, VanillaOption</text><text x="-77" y="47.3">::arguments, VanillaOption</text><text class="m" x="0" y="62.3">::results &gt;</text></g>
<g id="R10" class="o" transform="translate(583.9,574.6)"><rect x="-114.4" y="0" width="228.8" height="70.5"/><text x="-103.9" y="17.3">GenericModelEngine</text><text x="-103.9" y="32.3">&lt; GJRGARCHModel, VanillaOption</text><text x="-103.9" y="47.3">::arguments, VanillaOption</text><text class="m" x="0" y="62.3">::results &gt;</text></g>
<g id="R11" class="o" transform="translate(583.9,668.7)"><rect x="-97.15" y="0" width="194.3" height="70.5"/><text x="-86.6" y="17.3">GenericModelEngine</text><text x="-86.6" y="32.3">&lt; HestonModel, VanillaOption</text><text x="-86.6" y="47.3">::arguments, VanillaOption</text><text class="m" x="0" y="62.3">::results &gt;</text></g>
<g id="R12" class="o" transform="translate(583.9,763.6)"><rect x="-113.95" y="0" width="227.9" height="70.5"/><text x="-103.4" y="17.3">GenericModelEngine</text><text x="-103.4" y="32.3">&lt; PiecewiseTimeDependentHeston</text><text x="-103.4" y="47.3">Model, VanillaOption::arguments,</text><text class="m" x="0" y="62.3">VanillaOption::results &gt;</text></g>
<g id="R13" class="o" transform="translate(583.9,858.1)"><rect x="-93.25" y="0" width="186.5" height="70.5"/><text x="-82.7" y="17.3">GenericModelEngine</text><text x="-82.7" y="32.3">&lt; BatesModel, VanillaOption</text><text x="-82.7" y="47.3">::arguments, VanillaOption</text><text class="m" x="0" y="62.3">::results &gt;</text></g>
<g id="R14" class="o" transform="translate(583.9,953.1)"><rect x="-81.25" y="0" width="162.5" height="70.5"/><text x="-70.7" y="17.3">GenericModelEngine</text><text x="-70.7" y="32.3">&lt; AffineModel, CapFloor</text><text x="-70.7" y="47.3">::arguments, CapFloor::</text><text class="m" x="0" y="62.3">results &gt;</text></g>
<g id="R15" class="o" transform="translate(583.9,1047.2)"><rect x="-105.45" y="0" width="210.9" height="55.6"/><text x="-94.9" y="17.3">GenericModelEngine</text><text x="-94.9" y="32.3">&lt; Gaussian1dModel, CapFloor</text><text class="m" x="0" y="47.3">::arguments, CapFloor::results &gt;</text></g>
<g id="R16" class="o" transform="translate(583.9,1127.2)"><rect x="-105.45" y="0" width="210.9" height="55.6"/><text x="-94.9" y="17.3">GenericModelEngine</text><text x="-94.9" y="32.3">&lt; ShortRateModel, CapFloor</text><text class="m" x="0" y="47.3">::arguments, CapFloor::results &gt;</text></g>
<g id="R17" class="r" transform="translate(583.9,1208)"><rect x="-29.95" y="0" width="59.9" height="26"/><text class="m" x="0" y="17.5">engine</text></g>
<g id="R18" class="g" transform="translate(583.9,1257.4)"><rect x="-88.4" y="0" width="176.8" height="40.6"/><text x="-77.9" y="17.3">path_generator_type</text><text class="m" x="0" y="32.3">&lt; SingleVariate, RNG, S &gt;</text></g>
<g id="R19" class="g" transform="translate(583.9,1322.4)"><rect x="-82.85" y="0" width="165.7" height="40.6"/><text x="-72.3" y="17.3">path_pricer_type&lt; Single</text><text class="m" x="0" y="32.3">Variate, RNG, S &gt;</text></g>
<g id="R20" class="g" transform="translate(583.9,1387.9)"><rect x="-87.25" y="0" width="174.5" height="40.6"/><text x="-76.7" y="17.3">stats_type&lt; SingleVariate,</text><text class="m" x="0" y="32.3">RNG, S &gt;</text></g>
<g id="R21" class="g" transform="translate(583.9,1453)"><rect x="-84" y="0" width="168" height="40.6"/><text x="-73.5" y="17.3">path_generator_type</text><text class="m" x="0" y="32.3">&lt; MultiVariate, RNG, S &gt;</text></g>
<g id="R22" class="g" transform="translate(583.9,1518.5)"><rect x="-100.85" y="0" width="201.7" height="40.6"/><text x="-90.3" y="17.3">path_pricer_type&lt; MultiVariate,</text><text class="m" x="0" y="32.3">RNG, S &gt;</text></g>
<g id="R23" class="g" transform="translate(583.9,1583.6)"><rect x="-83.35" y="0" width="166.7" height="40.6"/><text x="-72.8" y="17.3">stats_type&lt; MultiVariate,</text><text class="m" x="0" y="32.3">RNG, S &gt;</text></g>
<g id="R24" class="o" transform="translate(583.9,1648.3)"><rect x="-107.05" y="0" width="214.1" height="55.6"/><text x="-96.5" y="17.3">MCForwardVanillaEngine</text><text x="-96.5" y="32.3">&lt; SingleVariate, PseudoRandom,</text><text class="m" x="0" y="47.3">Statistics &gt;</text></g>
<g id="R25" class="o" transform="translate(583.9,1728.3)"><rect x="-103.15" y="0" width="206.3" height="55.6"/><text x="-92.6" y="17.3">MCForwardVanillaEngine</text><text x="-92.6" y="32.3">&lt; MultiVariate, PseudoRandom,</text><text class="m" x="0" y="47.3">Statistics &gt;</text></g>
<g id="R26" class="g" transform="translate(583.9,1807.5)"><rect x="-106.1" y="0" width="212.2" height="40.6"/><text x="-95.6" y="17.3">AnalyticHestonForwardEuropean</text><text class="m" x="0" y="32.3">Engine</text></g>
<g id="R27" class="r" transform="translate(583.9,1873.4)"><rect x="-73.2" y="0" width="146.4" height="40.6"/><text x="-62.7" y="17.3">ForwardVanillaEngine</text><text class="m" x="0" y="32.3">&lt; Engine &gt;</text></g>
<g id="R28" class="g" transform="translate(583.9,1938.5)"><rect x="-83.55" y="0" width="167.1" height="40.6"/><text x="-73" y="17.3">MCForwardVanillaEngine</text><text class="m" x="0" y="32.3">&lt; MC, RNG, S &gt;</text></g>
<g id="R29" class="o" transform="translate(583.9,2003.9)"><rect x="-97.15" y="0" width="194.3" height="70.5"/><text x="-86.6" y="17.3">GenericModelEngine</text><text x="-86.6" y="32.3">&lt; HestonModel, BarrierOption</text><text x="-86.6" y="47.3">::arguments, BarrierOption</text><text class="m" x="0" y="62.3">::results &gt;</text></g>
<g id="R30" class="r" transform="translate(583.9,2098)"><rect x="-29.95" y="0" width="59.9" height="26"/><text class="m" x="0" y="17.5">engine</text></g>
<g id="R31" class="r" transform="translate(583.9,2147.8)"><rect x="-29.95" y="0" width="59.9" height="26"/><text class="m" x="0" y="17.5">engine</text></g>
<g id="R32" class="o" transform="translate(583.9,2197.1)"><rect x="-102.45" y="0" width="204.9" height="70.5"/><text x="-91.9" y="17.3">GenericModelEngine</text><text x="-91.9" y="32.3">&lt; ShortRateModel, Callable</text><text x="-91.9" y="47.3">Bond::arguments, CallableBond</text><text class="m" x="0" y="62.3">::results &gt;</text></g>
<g id="R33" class="g" transform="translate(583.9,2291.6)"><rect x="-29.95" y="0" width="59.9" height="26"/><text class="m" x="0" y="17.5">engine</text></g>
<g id="R34" class="g" transform="translate(583.9,2340.5)"><rect x="-29.95" y="0" width="59.9" height="26"/><text class="m" x="0" y="17.5">engine</text></g>
<g id="R35" class="r" transform="translate(583.9,2390.3)"><rect x="-29.95" y="0" width="59.9" height="26"/><text class="m" x="0" y="17.5">engine</text></g>
<g id="R36" class="r" transform="translate(583.9,2439.6)"><rect x="-29.95" y="0" width="59.9" height="26"/><text class="m" x="0" y="17.5">engine</text></g>
<g id="R37" class="g" transform="translate(583.9,2489)"><rect x="-29.95" y="0" width="59.9" height="26"/><text class="m" x="0" y="17.5">engine</text></g>
<g id="R38" class="r" transform="translate(583.9,2538.3)"><rect x="-29.95" y="0" width="59.9" height="26"/><text class="m" x="0" y="17.5">engine</text></g>
<g id="R39" class="r" transform="translate(583.9,2605.8)"><rect x="-29.95" y="0" width="59.9" height="26"/><text class="m" x="0" y="17.5">engine</text></g>
<g id="R40" class="r" transform="translate(583.9,2700.7)"><rect x="-29.95" y="0" width="59.9" height="26"/><text class="m" x="0" y="17.5">engine</text></g>
<g id="R41" class="r" transform="translate(583.9,2795.3)"><rect x="-29.95" y="0" width="59.9" height="26"/><text class="m" x="0" y="17.5">engine</text></g>
<g id="R42" class="r" transform="translate(583.9,2889.8)"><rect x="-29.95" y="0" width="59.9" height="26"/><text class="m" x="0" y="17.5">engine</text></g>
<g id="R43" class="r" transform="translate(583.9,2984.7)"><rect x="-29.95" y="0" width="59.9" height="26"/><text class="m" x="0" y="17.5">engine</text></g>
<g id="R44" class="r" transform="translate(583.9,3167.6)"><rect x="-29.95" y="0" width="59.9" height="26"/><text class="m" x="0" y="17.5">engine</text></g>
<g id="R45" class="o" transform="translate(583.9,3216.5)"><rect x="-107.95" y="0" width="215.9" height="70.5"/><text x="-97.4" y="17.3">GenericModelEngine</text><text x="-97.4" y="32.3">&lt; HestonModel, DoubleBarrier</text><text x="-97.4" y="47.3">Option::arguments, DoubleBarrier</text><text class="m" x="0" y="62.3">Option::results &gt;</text></g>
<g id="R46" class="r" transform="translate(583.9,3311.4)"><rect x="-29.95" y="0" width="59.9" height="26"/><text class="m" x="0" y="17.5">engine</text></g>
<g id="R47" class="g" transform="translate(583.9,3361.1)"><rect x="-104.75" y="0" width="209.5" height="40.6"/><text x="-94.2" y="17.3">VannaVolgaDoubleBarrierEngine</text><text class="m" x="0" y="32.3">&lt; DoubleBarrierEngine &gt;</text></g>
<g id="R48" class="o" transform="translate(583.9,3425.8)"><rect x="-92.55" y="0" width="185.1" height="55.6"/><text x="-82" y="17.3">GenericModelEngine</text><text x="-82" y="32.3">&lt; G2, Swaption::arguments,</text><text class="m" x="0" y="47.3">Swaption::results &gt;</text></g>
<g id="R49" class="g" transform="translate(583.9,3505)"><rect x="-76.45" y="0" width="152.9" height="70.5"/><text x="-65.9" y="17.3">GenericModelEngine</text><text x="-65.9" y="32.3">&lt; HullWhite, Swaption</text><text x="-65.9" y="47.3">::arguments, Swaption</text><text class="m" x="0" y="62.3">::results &gt;</text></g>
<g id="R50" class="o" transform="translate(583.9,3599.5)"><rect x="-105.65" y="0" width="211.3" height="55.6"/><text x="-95.1" y="17.3">GenericModelEngine</text><text x="-95.1" y="32.3">&lt; Gaussian1dModel, Swaption</text><text class="m" x="0" y="47.3">::arguments, Swaption::results &gt;</text></g>
<g id="R51" class="o" transform="translate(583.9,3678.3)"><rect x="-83.55" y="0" width="167.1" height="70.5"/><text x="-73" y="17.3">GenericModelEngine</text><text x="-73" y="32.3">&lt; OneFactorAffineModel,</text><text x="-69" y="47.3">Swaption::arguments,</text><text class="m" x="0" y="62.3">Swaption::results &gt;</text></g>
<g id="R52" class="o" transform="translate(583.9,3773.2)"><rect x="-76.2" y="0" width="152.4" height="70.5"/><text x="-65.7" y="17.3">GenericModelEngine</text><text x="-65.7" y="32.3">&lt; LiborForwardModel,</text><text x="-61.5" y="47.3">Swaption::arguments,</text><text class="m" x="0" y="62.3">Swaption::results &gt;</text></g>
<g id="R53" class="o" transform="translate(583.9,3867.3)"><rect x="-105.65" y="0" width="211.3" height="55.6"/><text x="-95.1" y="17.3">GenericModelEngine</text><text x="-95.1" y="32.3">&lt; ShortRateModel, Swaption</text><text class="m" x="0" y="47.3">::arguments, Swaption::results &gt;</text></g>
<g id="R54" class="r" transform="translate(583.9,3947.7)"><rect x="-29.95" y="0" width="59.9" height="26"/><text class="m" x="0" y="17.5">engine</text></g>
<g id="R55" class="o" transform="translate(583.9,4009)"><rect x="-132.35" y="0" width="264.7" height="70.5"/><text x="-121.8" y="17.3">GenericModelEngine</text><text x="-121.8" y="32.3">&lt; Gaussian1dModel, FloatFloat</text><text x="-121.8" y="47.3">Swaption::arguments, FloatFloatSwaption</text><text class="m" x="0" y="62.3">::results &gt;</text></g>
</g>
</svg>
